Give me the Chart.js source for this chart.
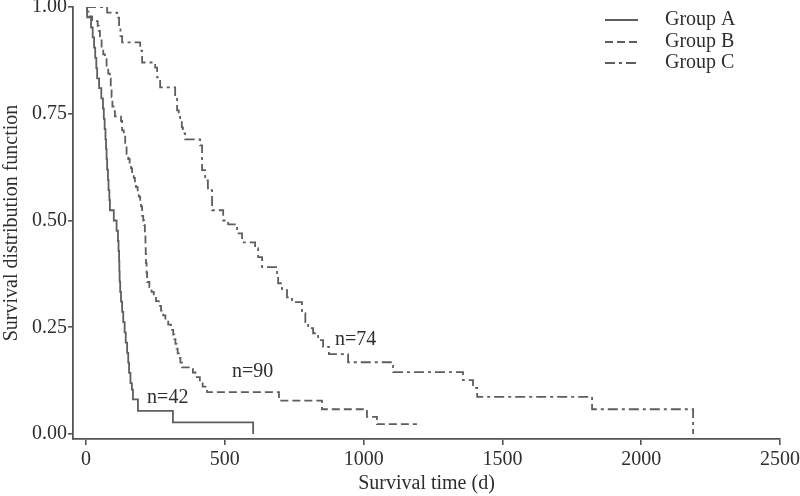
<!DOCTYPE html>
<html>
<head>
<meta charset="utf-8">
<script src="https://cdn.jsdelivr.net/npm/chart.js@4.4.1/dist/chart.umd.min.js"></script>
<style>
  html, body { margin: 0; padding: 0; background: #ffffff; }
  #wrap { width: 800px; height: 496px; }
</style>
</head>
<body>
<div id="wrap"><canvas id="c" width="800" height="496"></canvas></div>
<script>
// ---- data ----
const groupNames = ['Group A', 'Group B', 'Group C'];
const groupN = [42, 90, 74];

const groupATimes = [0, 4, 18, 24, 29, 33, 37, 40, 47, 55, 61, 64, 67, 70, 72, 74, 76, 79, 81, 84, 86, 100, 110, 115, 117, 119, 120, 121, 123, 126, 130, 134, 139, 143, 148, 152, 155, 160, 165, 169, 187, 313, 602];
const groupASurv  = [1, 0.976, 0.952, 0.929, 0.905, 0.881, 0.857, 0.833, 0.810, 0.786, 0.762, 0.738, 0.714, 0.690, 0.667, 0.643, 0.619, 0.595, 0.571, 0.548, 0.524, 0.500, 0.476, 0.452, 0.429, 0.405, 0.381, 0.357, 0.333, 0.310, 0.286, 0.262, 0.238, 0.214, 0.190, 0.167, 0.143, 0.119, 0.104, 0.081, 0.054, 0.027, 0];

const groupBTimes = [0, 4, 12, 22, 42, 46, 50, 56, 62, 68, 74, 80, 86, 89, 92, 95, 99, 104, 126, 130, 136, 141, 146, 152, 157, 162, 166, 172, 176, 180, 186, 190, 195, 198, 202, 206, 209, 212, 214, 215, 216, 218, 220, 228, 236, 244, 252, 262, 270, 278, 286, 296, 306, 314, 318, 322, 326, 330, 334, 340, 346, 385, 394, 410, 420, 436, 695, 850, 1012, 1048, 1192];
const groupBSurv  = [1, 0.989, 0.978, 0.967, 0.956, 0.944, 0.922, 0.900, 0.889, 0.878, 0.856, 0.844, 0.833, 0.811, 0.789, 0.767, 0.756, 0.744, 0.733, 0.711, 0.700, 0.678, 0.656, 0.644, 0.633, 0.622, 0.611, 0.600, 0.589, 0.578, 0.567, 0.556, 0.544, 0.533, 0.511, 0.500, 0.489, 0.467, 0.444, 0.422, 0.400, 0.378, 0.356, 0.344, 0.333, 0.322, 0.311, 0.300, 0.289, 0.278, 0.267, 0.256, 0.244, 0.233, 0.222, 0.211, 0.200, 0.189, 0.178, 0.167, 0.156, 0.144, 0.133, 0.122, 0.111, 0.098, 0.078, 0.058, 0.040, 0.023, 0.023];

const groupCTimes = [0, 76, 112, 119, 124, 130, 195, 202, 249, 256, 267, 321, 328, 334, 339, 345, 349, 357, 411, 418, 429, 439, 454, 494, 512, 544, 562, 609, 620, 634, 688, 692, 706, 724, 742, 778, 790, 800, 818, 836, 854, 875, 944, 1106, 1358, 1394, 1409, 1823, 2187];
const groupCSurv  = [1, 0.987, 0.975, 0.952, 0.932, 0.917, 0.898, 0.870, 0.858, 0.835, 0.812, 0.788, 0.758, 0.745, 0.734, 0.718, 0.704, 0.690, 0.676, 0.618, 0.594, 0.571, 0.524, 0.500, 0.491, 0.470, 0.449, 0.435, 0.414, 0.391, 0.372, 0.353, 0.337, 0.320, 0.309, 0.283, 0.262, 0.248, 0.236, 0.220, 0.204, 0.187, 0.168, 0.145, 0.126, 0.108, 0.087, 0.058, 0];

const xTickValues = [0, 500, 1000, 1500, 2000, 2500];
const xTickLabels = ['0', '500', '1000', '1500', '2000', '2500'];
const yTickValues = [0, 0.25, 0.5, 0.75, 1];
const yTickLabels = ['0.00', '0.25', '0.50', '0.75', '1.00'];

const xTitle = 'Survival time (d)';
const yTitle = 'Survival distribution function';

// label anchors in data units (where the "n=" texts sit)
const nLabelTimes = [220, 526, 897];
const nLabelSurv  = [0.084, 0.145, 0.22];

// ---- styling ----
const LINE = '#5e5e5e';
const AXIS = '#555555';
const TEXT = '#2e2e2e';
const FONT = 'Liberation Serif, Times New Roman, serif';
const dashes = [[], [8, 4], [10, 4, 3, 4]];

function pts(ts, ss) { return ts.map((t, i) => ({ x: t, y: ss[i] })); }
const series = [pts(groupATimes, groupASurv), pts(groupBTimes, groupBSurv), pts(groupCTimes, groupCSurv)];

const overlay = {
  id: 'overlay',
  afterDatasetsDraw(chart) {
    const ctx = chart.ctx;
    const xs = chart.scales.x, ys = chart.scales.y;
    ctx.save();
    // legend
    const lx0 = 605, lx1 = 638, tx = 665, ly = [20, 42, 63];
    ctx.font = '20px ' + FONT;
    ctx.textBaseline = 'middle';
    ctx.textAlign = 'left';
    for (let i = 0; i < 3; i++) {
      ctx.strokeStyle = LINE;
      ctx.lineWidth = 1.8;
      ctx.setLineDash(dashes[i]);
      ctx.beginPath();
      ctx.moveTo(lx0, ly[i]);
      ctx.lineTo(lx1, ly[i]);
      ctx.stroke();
      ctx.setLineDash([]);
      ctx.fillStyle = TEXT;
      ctx.fillText(groupNames[i], tx, ly[i]);
    }
    // n= labels
    for (let i = 0; i < 3; i++) {
      ctx.fillStyle = TEXT;
      ctx.fillText('n=' + groupN[i], xs.getPixelForValue(nLabelTimes[i]), ys.getPixelForValue(nLabelSurv[i]));
    }
    ctx.restore();
  }
};

new Chart(document.getElementById('c'), {
  type: 'line',
  data: {
    datasets: series.map((d, i) => ({
      label: groupNames[i],
      data: d,
      stepped: 'before',
      borderColor: LINE,
      borderWidth: 1.8,
      borderDash: dashes[i],
      pointRadius: 0,
      fill: false,
      tension: 0
    }))
  },
  options: {
    responsive: false,
    devicePixelRatio: 1,
    animation: false,
    layout: { padding: { top: 7, right: 20, left: 0, bottom: 0 } },
    plugins: { legend: { display: false }, tooltip: { enabled: false } },
    scales: {
      x: {
        type: 'linear',
        min: -47,
        max: 2500,
        afterBuildTicks(s) { s.ticks = xTickValues.map(v => ({ value: v })); },
        afterFit(s) { s.height = 57; s.paddingLeft = 0; s.paddingRight = 0; },
        ticks: {
          callback(v) { const k = xTickValues.indexOf(v); return k >= 0 ? xTickLabels[k] : ''; },
          font: { family: FONT, size: 20 },
          color: TEXT,
          padding: 3,
          maxRotation: 0,
          autoSkip: false
        },
        grid: { drawOnChartArea: false, drawTicks: true, tickLength: 6, color: AXIS, lineWidth: 1.6 },
        border: { display: true, color: AXIS, width: 1.8 },
        title: { display: true, text: xTitle, font: { family: FONT, size: 20 }, color: TEXT, padding: { top: 0, bottom: 0 } }
      },
      y: {
        type: 'linear',
        min: -0.0117,
        max: 1.0,
        afterBuildTicks(s) { s.ticks = yTickValues.map(v => ({ value: v })); },
        afterFit(s) { s.width = 73; s.paddingTop = 0; s.paddingBottom = 0; },
        ticks: {
          callback(v) { const k = yTickValues.indexOf(v); return k >= 0 ? yTickLabels[k] : ''; },
          font: { family: FONT, size: 20 },
          color: TEXT,
          padding: 1,
          autoSkip: false
        },
        grid: { drawOnChartArea: false, drawTicks: true, tickLength: 5, color: AXIS, lineWidth: 1.6 },
        border: { display: true, color: AXIS, width: 1.8 },
        title: { display: true, text: yTitle, font: { family: FONT, size: 20 }, color: TEXT, padding: { top: 0, bottom: 0 } }
      }
    }
  },
  plugins: [overlay]
});
</script>
</body>
</html>
